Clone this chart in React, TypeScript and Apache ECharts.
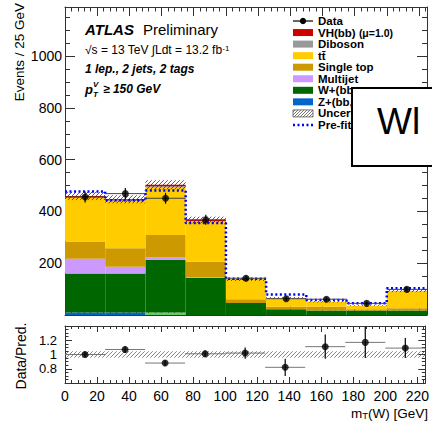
import React, { useEffect, useRef } from "react";
import * as echarts from "echarts";

// ---- data ----
const binEdges = [0, 25, 50, 75, 100, 125, 150, 175, 200, 225];
const zJets = [10, 10, 0, 0, 0, 0, 0, 0, 0];
const wClJets = [0, 0, 10, 0, 0, 0, 0, 0, 0];
const wJets = [150, 150, 203, 144, 46, 22, 17, 17, 17];
const multijet = [57, 26, 9, 2, 0, 0, 0, 0, 0];
const singleTop = [67, 72, 87, 60, 15, 10, 15, 5, 9];
const ttbar = [168, 182, 184, 155, 74, 33, 19, 14, 67];
const diboson = [3, 3, 4, 2, 1, 1, 0, 0, 0];
const vhSignal = [5, 4, 6, 4, 1, 0, 0, 0, 0];
const preFit = [477, 443, 481, 355, 140, 79, 58, 45, 103];
const dataVals = [456, 469, 451, 368, 142, 63, 61, 45, 99];
const dataErr = [21, 22, 21, 19, 12, 8, 8, 7, 10];
const bkgUnc = [0.035, 0.035, 0.035, 0.035, 0.04, 0.05, 0.05, 0.05, 0.05];
const ratioVals = [1.0, 1.07, 0.88, 1.01, 1.02, 0.82, 1.11, 1.17, 1.09];
const ratioErr = [0.04, 0.05, 0.04, 0.05, 0.08, 0.12, 0.17, 0.22, 0.14];
const ratioUnc = [0.045, 0.045, 0.045, 0.045, 0.045, 0.045, 0.045, 0.045, 0.045];
const xTickLabels = [0, 20, 40, 60, 80, 100, 120, 140, 160, 180, 200, 220];
const mainYTickLabels = [200, 400, 600, 800, 1000];
const ratioYTickLabels = [0.8, 1, 1.2];

const FONT = "Liberation Sans";

function hatchLines(x0: number, y0: number, x1: number, y1: number, s: number, style: any) {
  const out: any[] = [];
  const cStart = Math.ceil((x0 + y0) / s) * s;
  for (let c = cStart; c <= x1 + y1; c += s) {
    const xa = Math.max(x0, c - y1);
    const xb = Math.min(x1, c - y0);
    if (xb - xa > 0.3) out.push({ type: "line", shape: { x1: xa, y1: c - xa, x2: xb, y2: c - xb }, style });
  }
  return out;
}

export default function App() {
  const ref = useRef<HTMLDivElement>(null);
  useEffect(() => {
    if (!ref.current) return;
    const chart = echarts.init(ref.current, undefined, { renderer: "svg" });
    const nb = binEdges.length - 1;
    const centers = binEdges.slice(0, -1).map((e, i) => (e + binEdges[i + 1]) / 2);

    const layers = [
      { name: "Z+(bb,bc,cc,bl)", color: "#0066cc", vals: zJets },
      { name: "W+cl", color: "#66cc66", vals: wClJets },
      { name: "W+(bb,bc,cc,bl)", color: "#006600", vals: wJets },
      { name: "Multijet", color: "#cc99ff", vals: multijet },
      { name: "Single top", color: "#cc9900", vals: singleTop },
      { name: "ttbar", color: "#ffcc00", vals: ttbar },
      { name: "Diboson", color: "#999999", vals: diboson },
      { name: "VH(bb)", color: "#cc0000", vals: vhSignal },
    ];
    let base = new Array(nb).fill(0);
    const stackSeries = layers.map((l) => {
      const data = l.vals.map((v, i) => [i, base[i], base[i] + v]);
      base = base.map((b, i) => b + l.vals[i]);
      return {
        type: "custom",
        name: l.name,
        xAxisIndex: 0,
        yAxisIndex: 0,
        z: 2,
        data,
        encode: { x: 0, y: [1, 2] },
        renderItem: (p: any, api: any) => {
          const i = api.value(0);
          const a = api.coord([binEdges[i], api.value(1)]);
          const b = api.coord([binEdges[i + 1], api.value(2)]);
          return {
            type: "rect",
            shape: { x: a[0], y: b[1], width: b[0] - a[0], height: a[1] - b[1] },
            style: { fill: l.color },
          };
        },
      };
    });
    const totals = base;

    const hatchRender = (stroke: string) => (p: any, api: any) => {
      const i = api.value(0);
      const a = api.coord([binEdges[i], api.value(1)]);
      const b = api.coord([binEdges[i + 1], api.value(2)]);
      return {
        type: "group",
        children: hatchLines(a[0], b[1], b[0], a[1], 4, { stroke, lineWidth: 0.8 }),
      };
    };

    const errRender = (hColor: string) => (p: any, api: any) => {
      const i = api.value(0);
      const v = api.value(1);
      const e = api.value(2);
      const top = api.coord([centers[i], v + e]);
      const bot = api.coord([centers[i], v - e]);
      const l = api.coord([binEdges[i], v]);
      const r = api.coord([binEdges[i + 1], v]);
      return {
        type: "group",
        children: [
          { type: "line", shape: { x1: l[0], y1: l[1], x2: r[0], y2: r[1] }, style: { stroke: hColor, lineWidth: 1 } },
          { type: "line", shape: { x1: top[0], y1: top[1], x2: bot[0], y2: bot[1] }, style: { stroke: "#000", lineWidth: 1.2 } },
        ],
      };
    };

    const prefitPts: number[][] = [];
    preFit.forEach((v, i) => {
      prefitPts.push([binEdges[i], v], [binEdges[i + 1], v]);
    });

    const axisCol = "#333";
    const xBase = (gridIndex: number, position: string, showLabel: boolean, tickLen: number) => ({
      type: "value",
      gridIndex,
      position,
      min: 0,
      max: 225,
      interval: 20,
      axisLine: { show: true, onZero: false, lineStyle: { color: axisCol, width: 1 } },
      axisTick: { show: true, inside: true, length: tickLen, lineStyle: { color: axisCol } },
      minorTick: { show: true, splitNumber: 5, length: tickLen / 2, lineStyle: { color: axisCol } },
      splitLine: { show: false },
      axisLabel: {
        show: showLabel,
        fontFamily: FONT,
        fontSize: 14,
        color: "#000",
        margin: 6,
        formatter: (v: number) => (xTickLabels.includes(v) ? String(v) : ""),
      },
    });
    const yMain = (position: string, showLabel: boolean) => ({
      type: "value",
      gridIndex: 0,
      position,
      min: 0,
      max: 1190,
      interval: 200,
      axisLine: { show: true, onZero: false, lineStyle: { color: axisCol, width: 1 } },
      axisTick: { show: true, inside: true, length: 10, lineStyle: { color: axisCol } },
      minorTick: { show: true, splitNumber: 4, length: 5, lineStyle: { color: axisCol } },
      splitLine: { show: false },
      axisLabel: {
        show: showLabel,
        fontFamily: FONT,
        fontSize: 14,
        color: "#000",
        margin: 3,
        formatter: (v: number) => (mainYTickLabels.includes(v) ? String(v) : ""),
      },
    });
    const yRatio = (position: string, showLabel: boolean) => ({
      type: "value",
      gridIndex: 1,
      position,
      min: 0.6,
      max: 1.4,
      interval: 0.2,
      axisLine: { show: true, onZero: false, lineStyle: { color: axisCol, width: 1 } },
      axisTick: { show: true, inside: true, length: 7, lineStyle: { color: axisCol } },
      minorTick: { show: true, splitNumber: 4, length: 3.5, lineStyle: { color: axisCol } },
      splitLine: { show: false },
      axisLabel: {
        show: showLabel,
        fontFamily: FONT,
        fontSize: 13,
        lineHeight: 12,
        color: "#000",
        margin: 8,
        formatter: (v: number) => {
          const m = ratioYTickLabels.find((t) => Math.abs(t - v) < 1e-6);
          return m === undefined ? "" : String(m);
        },
      },
    });

    // legend graphics
    const legX = 293;
    const legTX = 318;
    const legY0 = 21;
    const legDy = 11.55;
    const legFont = { fontFamily: FONT, fontSize: 11.5, fontWeight: "bold", fill: "#000", textVerticalAlign: "middle" };
    const boxItems = [
      { label: "VH(bb)", color: "#cc0000", rich: true },
      { label: "Diboson", color: "#999999" },
      { label: "tt\u0304", color: "#ffcc00" },
      { label: "Single top", color: "#cc9900" },
      { label: "Multijet", color: "#cc99ff" },
      { label: "W+(bb,", color: "#006600" },
      { label: "Z+(bb,(", color: "#0066cc" },
    ];
    const legend: any[] = [];
    legend.push({ type: "line", shape: { x1: legX, y1: legY0, x2: legX + 20, y2: legY0 }, style: { stroke: "#000", lineWidth: 1.2 } });
    legend.push({ type: "circle", shape: { cx: legX + 10, cy: legY0, r: 3.2 }, style: { fill: "#000" } });
    legend.push({ type: "text", x: legTX, y: legY0, style: { ...legFont, text: "Data" } });
    boxItems.forEach((b, k) => {
      const y = legY0 + legDy * (k + 1);
      legend.push({ type: "rect", shape: { x: legX, y: y - 3.5, width: 20, height: 7 }, style: { fill: b.color } });
      if (b.rich) {
        legend.push({
          type: "text",
          x: legTX,
          y,
          style: {
            ...legFont,
            text: "VH(bb) {n|(\u03bc=1.0)}",
            rich: { n: { fontFamily: FONT, fontSize: 10.5, fontWeight: "bold", fill: "#000" } },
          },
        });
      } else {
        legend.push({ type: "text", x: legTX, y, style: { ...legFont, text: b.label } });
      }
    });
    const uy = legY0 + legDy * 8;
    legend.push({ type: "rect", shape: { x: legX, y: uy - 3.5, width: 20, height: 7 }, style: { fill: "#fff", stroke: "#555", lineWidth: 0.8 } });
    hatchLines(legX, uy - 3.5, legX + 20, uy + 3.5, 3, { stroke: "#555", lineWidth: 0.8 }).forEach((h) => legend.push(h));
    legend.push({ type: "text", x: legTX, y: uy, style: { ...legFont, text: "Uncert" } });
    const py = legY0 + legDy * 9;
    legend.push({ type: "line", shape: { x1: legX, y1: py, x2: legX + 20, y2: py }, style: { stroke: "#0000ff", lineWidth: 2.5, lineDash: [2, 2.5] } });
    legend.push({ type: "text", x: legTX, y: py, style: { ...legFont, text: "Pre-fit" } });

    const texts: any[] = [
      { type: "text", x: 85, y: 29, style: { text: "ATLAS", fontFamily: FONT, fontSize: 15, fontWeight: "bold", fontStyle: "italic", fill: "#000", textVerticalAlign: "middle" } },
      { type: "text", x: 143, y: 29, style: { text: "Preliminary", fontFamily: FONT, fontSize: 15, fill: "#000", textVerticalAlign: "middle" } },
      {
        type: "text",
        x: 85,
        y: 50,
        style: {
          text: "\u221as = 13 TeV \u222bLdt = 13.2 fb{s|-1}",
          fontFamily: FONT,
          fontSize: 12,
          fill: "#000",
          textVerticalAlign: "middle",
          rich: { s: { fontFamily: FONT, fontSize: 8, verticalAlign: "top", fill: "#000" } },
        },
      },
      { type: "text", x: 85, y: 69, style: { text: "1 lep., 2 jets, 2 tags", fontFamily: FONT, fontSize: 12, fontWeight: "bold", fontStyle: "italic", fill: "#000", textVerticalAlign: "middle" } },
      { type: "text", x: 85, y: 89, style: { text: "p", fontFamily: FONT, fontSize: 13, fontWeight: "bold", fontStyle: "italic", fill: "#000", textVerticalAlign: "middle" } },
      { type: "text", x: 93, y: 84, style: { text: "V", fontFamily: FONT, fontSize: 8, fontWeight: "bold", fontStyle: "italic", fill: "#000", textVerticalAlign: "middle" } },
      { type: "text", x: 93, y: 94, style: { text: "T", fontFamily: FONT, fontSize: 8, fontWeight: "bold", fontStyle: "italic", fill: "#000", textVerticalAlign: "middle" } },
      { type: "text", x: 103, y: 89, style: { text: "\u2265 150 GeV", fontFamily: FONT, fontSize: 12, fontWeight: "bold", fontStyle: "italic", fill: "#000", textVerticalAlign: "middle" } },
      { type: "text", x: 19, y: 3, rotation: Math.PI / 2, style: { text: "Events / 25 GeV", fontFamily: FONT, fontSize: 13.5, fill: "#000", textAlign: "right", textVerticalAlign: "middle" } },
      { type: "text", x: 21, y: 356, rotation: Math.PI / 2, style: { text: "Data/Pred.", fontFamily: FONT, fontSize: 14, fill: "#000", textAlign: "center", textVerticalAlign: "middle" } },
      {
        type: "text",
        x: 428,
        y: 413,
        style: {
          text: "m{t|T}(W) [GeV]",
          fontFamily: FONT,
          fontSize: 13.5,
          fill: "#000",
          textAlign: "right",
          textVerticalAlign: "middle",
          rich: { t: { fontFamily: FONT, fontSize: 9.5, verticalAlign: "bottom", fill: "#000" } },
        },
      },
      { type: "rect", z: 100, shape: { x: 352, y: 88, width: 100, height: 78 }, style: { fill: "#fff", stroke: "#000", lineWidth: 2 } },
      { type: "text", z: 101, x: 377, y: 121, style: { text: "Wl", fontFamily: FONT, fontSize: 37, fill: "#000", textVerticalAlign: "middle" } },
    ];

    const option: any = {
      animation: false,
      backgroundColor: "#fff",
      grid: [
        { left: 65, top: 7, width: 362, height: 308, containLabel: false },
        { left: 65, top: 326, width: 362, height: 57, containLabel: false },
      ],
      xAxis: [xBase(0, "bottom", false, 9), xBase(0, "top", false, 9), xBase(1, "bottom", true, 6), xBase(1, "top", false, 6)],
      yAxis: [yMain("left", true), yMain("right", false), yRatio("left", true), yRatio("right", false)],
      series: [
        ...stackSeries,
        {
          type: "custom",
          name: "Uncertainty",
          xAxisIndex: 0,
          yAxisIndex: 0,
          z: 3,
          data: totals.map((t, i) => [i, t * (1 - bkgUnc[i]), t * (1 + bkgUnc[i])]),
          encode: { x: 0, y: [1, 2] },
          renderItem: hatchRender("#333"),
        },
        {
          type: "line",
          name: "Pre-fit background",
          xAxisIndex: 0,
          yAxisIndex: 0,
          z: 4,
          data: prefitPts,
          showSymbol: false,
          symbol: "none",
          lineStyle: { color: "#0000ff", width: 2.5, type: [2, 2.5] },
        },
        {
          type: "custom",
          name: "Data err",
          xAxisIndex: 0,
          yAxisIndex: 0,
          z: 5,
          data: dataVals.map((v, i) => [i, v, dataErr[i]]),
          encode: { x: 0, y: 1 },
          renderItem: errRender("#444"),
        },
        {
          type: "scatter",
          name: "Data",
          xAxisIndex: 0,
          yAxisIndex: 0,
          z: 6,
          symbol: "circle",
          symbolSize: 7,
          itemStyle: { color: "#000" },
          data: centers.map((c, i) => [c, dataVals[i]]),
        },
        {
          type: "custom",
          name: "Ratio unc",
          xAxisIndex: 2,
          yAxisIndex: 2,
          z: 3,
          data: ratioUnc.map((u, i) => [i, 1 - u, 1 + u]),
          encode: { x: 0, y: [1, 2] },
          renderItem: hatchRender("#666"),
        },
        {
          type: "custom",
          name: "Ratio err",
          xAxisIndex: 2,
          yAxisIndex: 2,
          z: 5,
          data: ratioVals.map((v, i) => [i, v, ratioErr[i]]),
          encode: { x: 0, y: 1 },
          renderItem: errRender("#777"),
        },
        {
          type: "scatter",
          name: "Ratio",
          xAxisIndex: 2,
          yAxisIndex: 2,
          z: 6,
          symbol: "circle",
          symbolSize: 7,
          itemStyle: { color: "#000" },
          data: centers.map((c, i) => [c, ratioVals[i]]),
        },
      ],
      graphic: [...legend, ...texts],
    };
    chart.setOption(option);
    return () => chart.dispose();
  }, []);
  return <div ref={ref} style={{ position: "fixed", left: 0, top: 0, width: 432, height: 421, background: "#fff" }} />;
}
